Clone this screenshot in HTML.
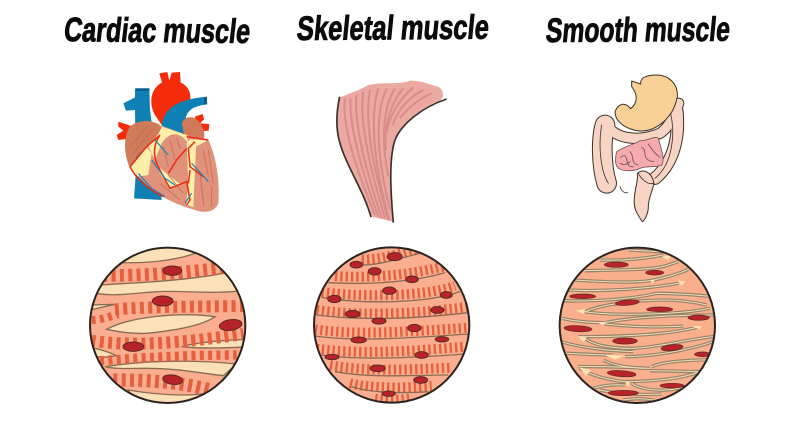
<!DOCTYPE html>
<html><head><meta charset="utf-8"><style>html,body{margin:0;padding:0;background:#fff;width:800px;height:426px;overflow:hidden}svg{display:block}
.t{font-family:"Liberation Sans",sans-serif;font-weight:700;font-size:34px;fill:#0b0b0b;stroke:#0b0b0b;stroke-width:.9}
.n{fill:#b8232b;stroke:#5a2a22;stroke-width:3}
.s{fill:none;stroke:#e4603f;stroke-dasharray:12 13}
.b{fill:none;stroke:#8a6c52;stroke-width:4}
.c{fill:#fbe0b8;stroke:#8a6c52;stroke-width:4}
.m{fill:none;stroke:#3a2f2a}
</style></head><body>
<svg width="800" height="426" viewBox="0 0 800 426" xmlns="http://www.w3.org/2000/svg">
<defs><clipPath id="cc"><circle cx="263" cy="256" r="233"/></clipPath>
<path id="sep" d="M150,60 C220,62 290,55 340,45 M235,30 L345,36 M105,92 C200,90 300,90 345,78 L385,65 M75,120 C150,125 250,130 300,122 C340,115 390,100 415,88 M55,150 C150,155 280,148 385,130 M320,160 C380,160 440,165 490,170 M40,182 C120,185 230,180 320,160 M105,215 C150,195 250,180 340,180 C390,180 440,188 470,195 M105,215 C180,228 380,225 480,205 M35,235 C80,245 130,248 165,248 M165,248 C240,232 370,225 490,225 M165,252 C250,262 340,262 400,258 M85,290 C200,290 350,285 440,262 M105,295 C130,315 180,325 250,325 C320,322 400,300 490,290 M35,305 C80,320 160,332 250,335 M50,340 C100,342 150,345 190,345 M225,350 C300,350 400,335 490,305 M160,360 C190,378 250,385 300,385 M305,380 C340,365 420,358 490,360 M85,380 C150,378 230,382 300,385 M90,385 C120,405 170,418 220,425 M300,392 L450,395 M220,425 C280,425 400,420 460,390 M245,430 C270,448 340,460 405,440 M130,445 C160,435 200,433 225,435 M150,450 C200,462 280,465 335,462 M220,480 C250,475 280,475 310,480"/>
</defs>
<rect width="800" height="426" fill="#fff"/>

<text class="t" transform="translate(63,41) rotate(.6) skewX(-6)" textLength="186" lengthAdjust="spacingAndGlyphs">Cardiac muscle</text>
<text class="t" transform="translate(296,40) rotate(-.4) skewX(-6)" textLength="192" lengthAdjust="spacingAndGlyphs">Skeletal muscle</text>
<text class="t" transform="translate(545,42) rotate(-.4) skewX(-6)" textLength="184" lengthAdjust="spacingAndGlyphs">Smooth muscle</text>

<!-- heart -->
<g transform="translate(80,60) scale(.33333)">
<path d="M165,85 L208,85 L210,150 L245,420 L162,415 L168,330 L165,150 L138,152 L130,130 L165,112Z" fill="#0f80b4"/>
<path d="M168,85 h40 v8 h-40z" fill="#0a5d8c"/>
<path d="M238,40 L262,36 L268,62 L275,38 L300,36 L302,68 C325,78 335,100 330,125 L290,170 L245,195 L225,165 C205,130 212,85 246,68Z" fill="#f42c0c"/>
<path d="M115,185 L145,195 L160,200 L155,235 L115,240 L110,225 L130,212 L115,200Z" fill="#f42c0c"/>
<path d="M345,170 L368,162 L372,178 L360,190 L388,192 L386,212 L350,215Z" fill="#f42c0c"/>
<path d="M245,195 C255,150 280,120 380,110 L382,133 C340,138 325,150 318,170 L320,230 L250,205Z" fill="#0f80b4"/>
<path d="M372,111 h9 v21 h-9z" fill="#0a5d8c"/>
<path d="M305,190 C315,165 345,165 360,190 C372,205 375,225 372,235 L315,235Z" fill="#d0785a"/>
<path d="M150,325 L200,258 L245,197 L320,225 L385,240 C410,290 420,370 415,430 C405,455 375,462 345,450 C290,435 235,410 190,365Z" fill="#e0937a"/>
<path d="M150,325 L200,262 L215,280 L205,345 L175,350Z M240,198 L320,225 L325,250 C300,215 270,212 245,250 L225,300 L205,260Z M320,250 L330,238 L385,240 L348,260 L345,330 L340,442 L318,432 L325,370Z M222,310 L265,345 L300,372 L270,388Z" fill="#fdeeaa"/>
<path d="M150,325 C130,280 130,230 150,200 C180,175 225,180 245,200 C235,235 190,265 170,290Z" fill="#cf7a58"/>
<g fill="none" stroke="#c56a52" stroke-width="3" opacity=".8">
<path d="M370,270 L385,350 M385,270 L400,370 M360,340 L372,440 M395,380 L395,440 M270,240 L285,300 M290,235 L300,265 M250,260 L265,320 M240,370 L300,420 M265,345 L310,400 M170,240 L190,210 M150,260 L200,200 M160,280 L220,205"/>
</g>
<g fill="none" stroke="#ef2a12" stroke-width="4.5">
<path d="M150,320 L200,260 L240,225 M150,320 C170,360 210,390 250,410 M240,225 C215,260 220,300 245,340 L270,385 L320,365 L330,420 L320,435 M320,230 L385,240 M320,265 L290,300 L265,340 M345,245 L325,265 L330,320 L370,350 M330,330 L325,370"/>
</g>
<g fill="none" stroke="#1e7fb8" stroke-width="3.5">
<path d="M225,240 L265,285 M215,300 L255,355 L285,375 M175,340 L215,385 L255,410 M335,310 L385,365 M315,430 L335,400"/>
</g>
</g>

<!-- skeletal belly -->
<g transform="translate(320,70) scale(.33333)">
<path d="M55,85 C85,70 110,65 145,45 C190,35 240,45 270,32 C310,32 330,45 355,50 C372,62 372,80 362,90 C300,115 245,160 225,210 C205,270 215,380 218,455 L155,440 C130,360 75,280 58,215 C48,170 50,120 55,85Z" fill="#eba9a1"/>
<g fill="none" stroke="#d68a85" stroke-width="6" opacity=".9">
<path d="M75,85 C65,170 110,300 165,435 M92,85 C85,170 135,330 175,440 M110,75 C100,170 145,320 185,445 M130,65 C115,160 160,330 195,445 M150,60 C130,170 170,330 205,450 M175,55 C145,150 170,320 208,450 M200,55 C160,140 175,280 210,420 M225,55 C185,120 185,220 205,320 M250,55 C210,100 190,180 198,240 M280,52 C240,85 205,140 200,190 M310,60 C270,80 235,115 218,165 M335,70 C300,85 260,115 240,145"/>
</g>
<path class="m" stroke-width="5" d="M59,80 C48,130 48,180 60,220 C80,290 130,360 153,441"/>
<path class="m" stroke-width="5" d="M380,87 C310,110 245,160 225,210 C205,270 213,380 220,458"/>
</g>

<!-- digestive -->
<g transform="translate(580,70) scale(.33333)" stroke-linejoin="round" stroke-linecap="round">
<g fill="none" stroke="#3a332d">
<path d="M80,340 C65,290 62,210 75,165" stroke-width="62"/>
<path d="M80,165 C110,210 180,215 240,190 C270,170 285,130 296,100" stroke-width="34"/>
<path d="M288,105 C300,180 290,270 225,325" stroke-width="40"/>
</g>
<g fill="none" stroke="#f8d4c4">
<path d="M80,340 C65,290 62,210 75,165" stroke-width="56"/>
<path d="M80,165 C110,210 180,215 240,190 C270,170 285,130 296,100" stroke-width="28"/>
<path d="M288,105 C300,180 290,270 225,325" stroke-width="34"/>
</g>
<path d="M172,310 C190,295 215,305 222,340 C215,370 205,385 205,410 C205,430 195,450 187,455 C170,430 160,415 163,385 C165,350 175,335 172,310Z" fill="#f8d4c4" stroke="#3a332d" stroke-width="3"/>
<path d="M110,245 C130,230 160,225 180,212 C200,215 225,195 235,205 C245,240 255,270 245,285 C225,295 205,285 180,295 C160,305 130,305 115,295 C105,285 105,265 110,245Z" fill="#f6a9ae" stroke="#6b5552" stroke-width="2.5"/>
<path fill="none" stroke="#6b5552" stroke-width="2.5" d="M122,262 C150,240 130,295 160,290 M150,245 C165,260 150,280 175,285 M185,232 C205,240 180,270 222,275 M205,222 C220,245 225,250 240,262 M120,280 C130,285 140,285 150,275"/>
<path d="M182,42 L155,33 L155,50 C175,75 172,100 152,116 C135,95 115,100 105,125 C105,150 125,172 170,182 C225,190 280,145 292,80 C295,40 265,15 230,15 C195,15 180,25 182,42Z" fill="#f8cf95" stroke="#3a332d" stroke-width="3"/>
<g fill="none" stroke="#3a332d" stroke-width="2.5">
<path d="M65,165 C55,220 60,300 85,340 M120,350 C125,365 135,370 143,368 M272,130 C285,190 280,280 225,325 M175,310 C185,330 205,345 220,340"/>
</g>
</g>

<!-- cardiac circle -->
<g transform="translate(80,240) scale(.33333)">
<g clip-path="url(#cc)">
<rect width="540" height="510" fill="#fbae8f"/>
<path d="M130,68 C210,70 290,60 345,40 L345,0 L130,0Z" class="c"/>
<path d="M60,135 C130,130 300,125 430,100 L500,100 L500,150 C400,165 300,150 230,155 C160,160 100,170 50,160Z" class="c"/>
<path d="M80,268 C150,230 300,215 405,230 C370,255 300,270 200,280 C150,282 110,275 80,268Z" class="c"/>
<path d="M30,195 L105,193 L30,210Z" class="c"/>
<path d="M30,322 C70,330 95,340 108,347 C90,352 70,352 30,350Z" class="c"/>
<path d="M305,320 C360,305 430,300 510,298 L510,320 C420,325 350,325 305,320Z" class="c"/>
<path d="M75,380 C200,360 350,360 470,372 L430,407 C360,400 300,385 200,385 C150,385 110,388 75,380Z" class="c"/>
<path d="M145,450 C200,460 300,470 365,462 L340,500 L170,500Z" class="c"/>
<path class="s" stroke-width="38" d="M70,106 C180,108 320,98 430,83"/>
<path class="s" stroke-width="36" d="M105,208 C210,200 350,200 490,198"/>
<path class="s" stroke-width="24" d="M35,240 C60,240 90,230 115,222"/>
<path class="s" stroke-width="36" d="M35,302 C150,320 300,310 490,282"/>
<path class="s" stroke-width="28" d="M60,362 C200,352 330,345 470,345"/>
<path class="s" stroke-width="40" d="M100,420 C200,420 300,425 390,450"/>
<ellipse class="n" cx="277" cy="92" rx="28" ry="14"/>
<ellipse class="n" cx="248" cy="183" rx="31" ry="15"/>
<ellipse class="n" cx="452" cy="255" rx="34" ry="16" transform="rotate(-8 452 255)"/>
<ellipse class="n" cx="160" cy="320" rx="31" ry="14"/>
<ellipse class="n" cx="278" cy="419" rx="30" ry="14" transform="rotate(8 278 419)"/>
</g>
<circle cx="263" cy="256" r="233" fill="none" stroke="#2b2420" stroke-width="6"/>
</g>

<!-- skeletal circle -->
<g transform="translate(305,240) scale(.33333)">
<g clip-path="url(#cc)" transform="translate(-3,0)">
<rect width="540" height="510" fill="#fbae8f"/>
<g style="fill:none;stroke:#e4603f;stroke-dasharray:7 9" stroke-width="30" transform="translate(3,0)">
<path d="M170,58 C230,60 290,38 345,28"/>
<path d="M90,108 C200,116 330,103 430,76"/>
<path d="M50,156 C150,170 350,173 450,138"/>
<path d="M35,210 C150,226 300,226 490,200"/>
<path d="M30,268 C150,286 300,276 490,263"/>
<path d="M35,326 C150,343 300,336 480,320"/>
<path d="M75,376 C200,396 320,388 440,383"/>
<path d="M135,430 C200,446 300,444 380,438"/>
<path d="M210,476 C250,482 290,480 320,474"/>
</g>
<g class="b" transform="translate(3,0)">
<path d="M170,75 C230,75 300,50 345,40"/>
<path d="M70,128 C200,135 330,125 420,98"/>
<path d="M50,172 C150,190 350,195 465,155"/>
<path d="M35,225 C150,240 300,240 490,218"/>
<path d="M30,288 C150,305 300,295 490,282"/>
<path d="M50,345 C150,360 300,355 480,342"/>
<path d="M90,395 C200,415 320,405 430,405"/>
<path d="M140,440 C200,460 300,460 370,455"/>
</g>
<g transform="translate(3,0)">
<ellipse class="n" cx="269" cy="50" rx="23" ry="12"/><ellipse class="n" cx="154" cy="74" rx="19" ry="10"/>
<ellipse class="n" cx="209" cy="94" rx="19" ry="11"/><ellipse class="n" cx="321" cy="118" rx="19" ry="10"/>
<ellipse class="n" cx="253" cy="152" rx="20" ry="11"/><ellipse class="n" cx="424" cy="165" rx="18" ry="10"/>
<ellipse class="n" cx="88" cy="177" rx="20" ry="11"/><ellipse class="n" cx="397" cy="210" rx="20" ry="10"/>
<ellipse class="n" cx="143" cy="222" rx="22" ry="11"/><ellipse class="n" cx="222" cy="243" rx="21" ry="9"/>
<ellipse class="n" cx="328" cy="264" rx="20" ry="11"/><ellipse class="n" cx="411" cy="298" rx="20" ry="8"/>
<ellipse class="n" cx="161" cy="300" rx="23" ry="9"/><ellipse class="n" cx="81" cy="351" rx="21" ry="8"/>
<ellipse class="n" cx="350" cy="345" rx="20" ry="10"/><ellipse class="n" cx="218" cy="385" rx="23" ry="10"/>
<ellipse class="n" cx="347" cy="420" rx="21" ry="10"/><ellipse class="n" cx="251" cy="461" rx="20" ry="8"/>
</g>
</g>
<circle cx="260" cy="255" r="233" fill="none" stroke="#2b2420" stroke-width="6"/>
</g>

<!-- smooth circle -->
<g transform="translate(550,240) scale(.33333)">
<g clip-path="url(#cc)">
<rect width="540" height="510" fill="#f9ae8c"/>
<use href="#sep" fill="none" stroke="#94826a" stroke-width="10"/>
<use href="#sep" fill="none" stroke="#f3ddb4" stroke-width="3"/>
<path d="M335,50 l30,-6 -10,16z M385,122 l22,2 -13,14z M78,212 l28,-6 -5,16z M140,247 l35,-2 -18,10z M425,258 l30,0 -5,10z M82,290 l28,2 -8,14z M165,345 l60,2 -30,12z M88,382 l35,8 -15,18z M225,425 l15,0 -5,15z M300,120 l15,0 -8,10z" fill="#fbe3b6"/>
<ellipse class="n" cx="199" cy="74" rx="36" ry="8" style="stroke-width:2"/>
<ellipse class="n" cx="314" cy="98" rx="27" ry="7" style="stroke-width:2"/>
<ellipse class="n" cx="98" cy="169" rx="39" ry="7" style="stroke-width:2"/>
<ellipse class="n" cx="232" cy="188" rx="36" ry="8" transform="rotate(-5 232 188)" style="stroke-width:2"/>
<ellipse class="n" cx="329" cy="208" rx="39" ry="7" style="stroke-width:2"/>
<ellipse class="n" cx="446" cy="233" rx="32" ry="8" style="stroke-width:2"/>
<ellipse class="n" cx="84" cy="266" rx="42" ry="9" transform="rotate(3 84 266)" style="stroke-width:2"/>
<ellipse class="n" cx="225" cy="303" rx="37" ry="9" style="stroke-width:2"/>
<ellipse class="n" cx="366" cy="323" rx="33" ry="9" transform="rotate(-6 366 323)" style="stroke-width:2"/>
<ellipse class="n" cx="458" cy="343" rx="24" ry="7" style="stroke-width:2"/>
<ellipse class="n" cx="215" cy="401" rx="43" ry="9" transform="rotate(4 215 401)" style="stroke-width:2"/>
<ellipse class="n" cx="366" cy="437" rx="36" ry="7" style="stroke-width:2"/>
<ellipse class="n" cx="220" cy="459" rx="45" ry="8" style="stroke-width:2"/>
</g>
<circle cx="262" cy="256" r="233" fill="none" stroke="#2b2420" stroke-width="6"/>
</g>
</svg>
</body></html>
